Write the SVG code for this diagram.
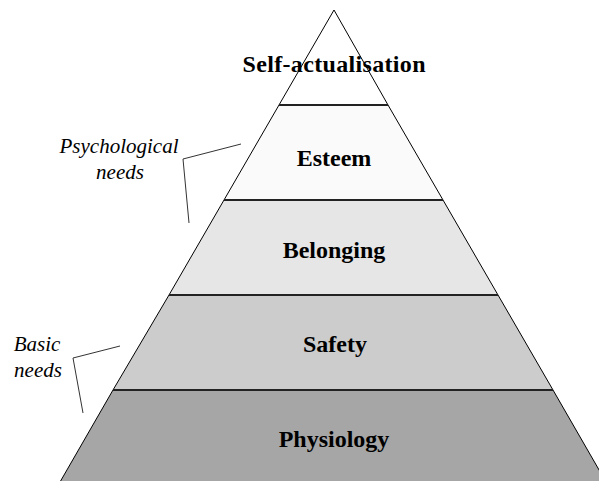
<svg xmlns="http://www.w3.org/2000/svg" width="599" height="481" viewBox="0 0 599 481">
<style>
.lvl{stroke:#000;stroke-width:1}
.div{stroke:#222;stroke-width:2}
.t{font-family:"Liberation Serif",serif;font-weight:bold;font-size:24px;text-anchor:middle;fill:#000}
.i{font-family:"Liberation Serif",serif;font-style:italic;font-size:21px;text-anchor:middle;fill:#000}
.br{fill:none;stroke:#333;stroke-width:1}
</style>
<rect width="599" height="481" fill="#fff"/>
<g id="physiology">
<polygon class="lvl" points="113,390 553,390 606,482 60,482" fill="#a6a6a6"/>
<text class="t" x="334" y="447">Physiology</text>
</g>
<g id="safety">
<polygon class="lvl" points="169,295 498,295 553,390 113,390" fill="#cccccc"/>
<text class="t" x="335" y="352">Safety</text>
</g>
<g id="belonging">
<polygon class="lvl" points="224,200 443,200 498,295 169,295" fill="#e6e6e6"/>
<text class="t" x="334" y="258">Belonging</text>
</g>
<g id="esteem">
<polygon class="lvl" points="279,105 388,105 443,200 224,200" fill="#fafafa"/>
<text class="t" x="334" y="166">Esteem</text>
</g>
<g id="self-actualisation">
<polygon class="lvl" points="334,10 388,105 279,105" fill="#fff"/>
<text class="t" x="334" y="72" textLength="183">Self-actualisation</text>
</g>
<g id="dividers">
<line class="div" x1="279" y1="105" x2="388" y2="105"/>
<line class="div" x1="224" y1="200" x2="443" y2="200"/>
<line class="div" x1="169" y1="295" x2="498" y2="295"/>
<line class="div" x1="113" y1="390" x2="553" y2="390"/>
</g>
<g id="psychological-needs">
<text class="i" x="119" y="153">Psychological</text>
<text class="i" x="120" y="179">needs</text>
</g>
<g id="basic-needs">
<text class="i" x="37" y="351">Basic</text>
<text class="i" x="38" y="377">needs</text>
</g>
<g id="connectors">
<polyline class="br" points="241,144 183,159 189,223"/>
<polyline class="br" points="120,346 73,358 83,413"/>
</g>
</svg>
